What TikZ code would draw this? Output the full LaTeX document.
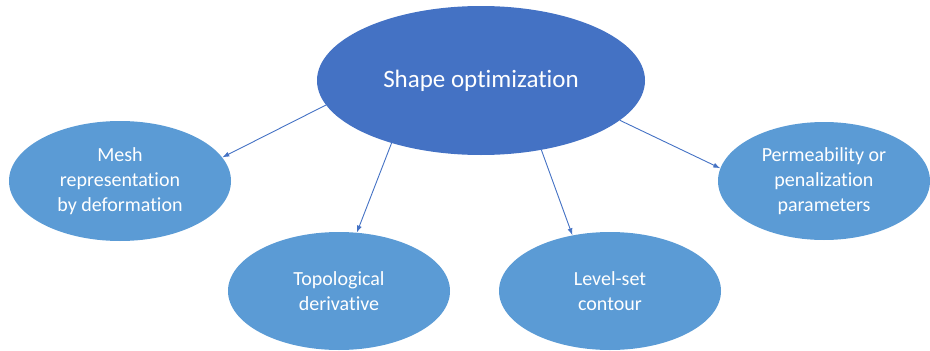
\documentclass[tikz,border=0pt]{standalone}
\usepackage{fontspec}
\setmainfont[Ligatures=NoCommon]{Carlito}
\usetikzlibrary{shapes.geometric,arrows.meta}
\definecolor{topblue}{HTML}{4472C4}
\definecolor{subblue}{HTML}{5B9BD5}
\tikzset{
  blob/.style={ellipse, fill=subblue, draw=none, inner sep=0pt, text=white,
    align=center, font=\fontsize{20}{25}\selectfont},
  mainblob/.style={blob, fill=topblue, font=\fontsize{25}{29}\selectfont},
  link/.style={draw=topblue, line width=0.9pt, -{Latex[length=7pt,width=5pt]}}
}
\begin{document}
\begin{tikzpicture}[x=1pt,y=-1pt]
  \useasboundingbox (0,0) rectangle (930,351);
  \node[mainblob, minimum width=328pt, minimum height=149pt] (top) at (481,80.5) {Shape optimization};
  \node[blob, minimum width=222pt, minimum height=120pt] (mesh) at (120,181) {Mesh\\representation\\by deformation};
  \node[blob, minimum width=222pt, minimum height=118pt] (topo) at (339,291) {Topological\\derivative};
  \node[blob, minimum width=222pt, minimum height=118pt] (level) at (610,291) {Level-set\\contour};
  \node[blob, minimum width=212pt, minimum height=118pt] (perm) at (824,181) {Permeability or\\penalization\\parameters};
  \draw[link] (top.189.6) -- (mesh.13);
  \draw[link] (top.215.3) -- (topo.73.6);
  \draw[link] (top.-49.7) -- (level.124.5);
  \draw[link] (top.-16.4) -- (perm.173);
\end{tikzpicture}
\end{document}
